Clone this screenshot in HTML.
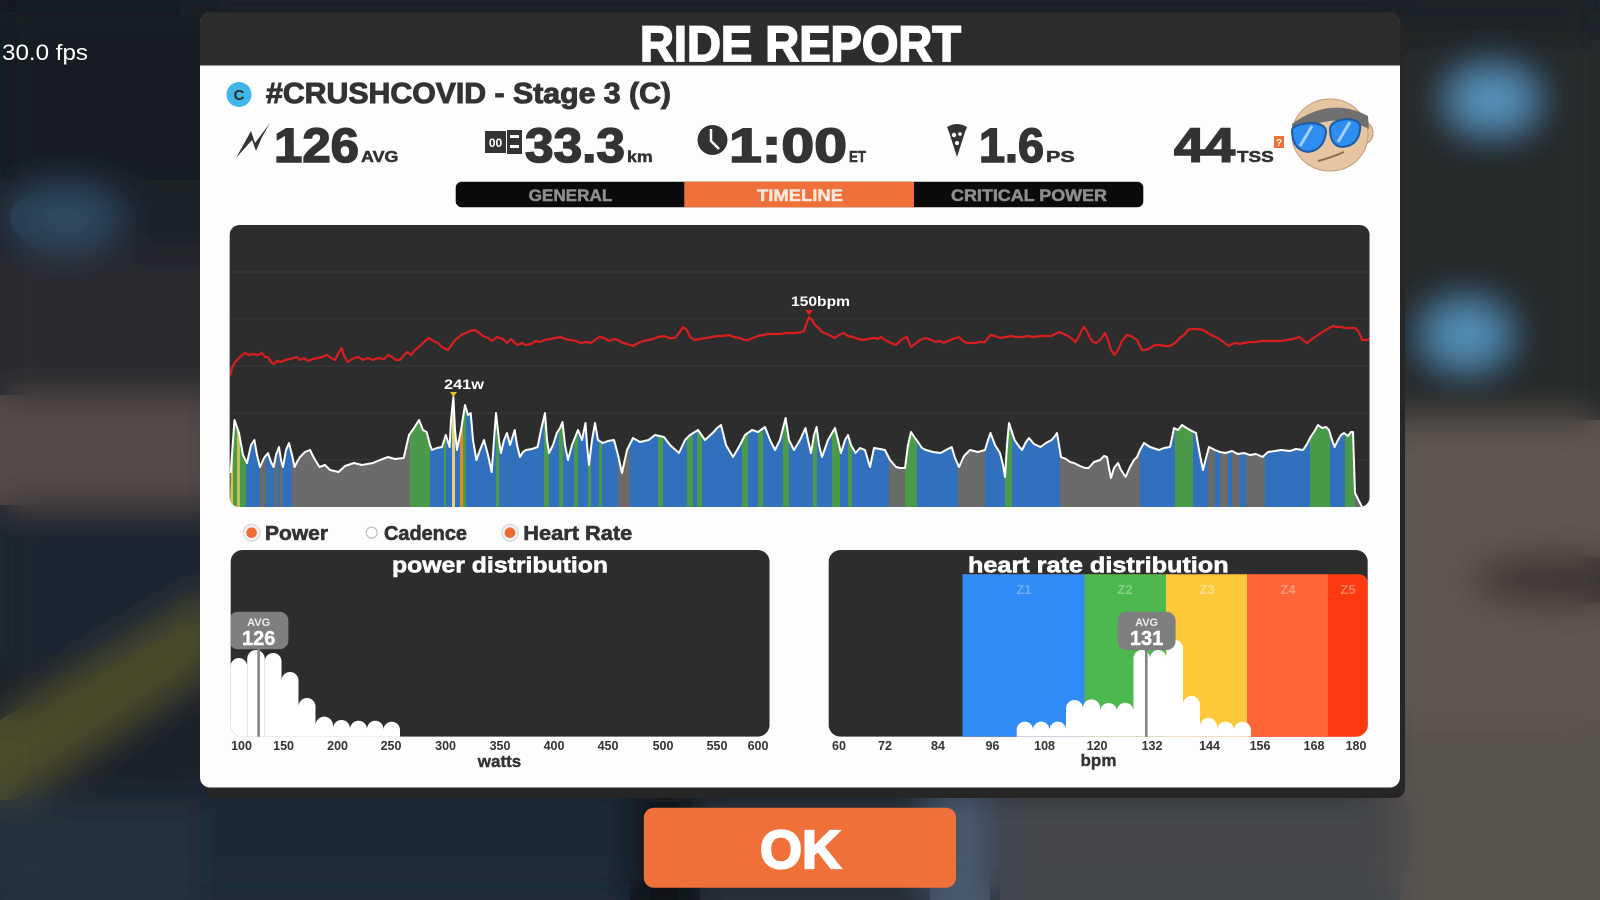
<!DOCTYPE html>
<html><head><meta charset="utf-8"><style>
html,body{margin:0;padding:0;width:1600px;height:900px;overflow:hidden;background:#1b2129}
svg{display:block;overflow:hidden}
text{font-family:"Liberation Sans",Arial,sans-serif;font-weight:bold}
</style></head><body>
<svg width="1600" height="900" viewBox="0 0 1600 900" xmlns="http://www.w3.org/2000/svg" xmlns:xlink="http://www.w3.org/1999/xlink" style="overflow:hidden">
<defs>
<clipPath id="full"><rect x="0" y="0" width="1600" height="900"/></clipPath>
<filter id="blur" x="0" y="0" width="1600" height="900" filterUnits="userSpaceOnUse"><feGaussianBlur stdDeviation="18"/></filter>
<g id="bgshapes">
<rect x="0" y="0" width="1600" height="900" fill="#1c232b"/>
<rect x="0" y="0" width="220" height="180" fill="#131a21"/>
<ellipse cx="65" cy="218" rx="55" ry="32" fill="#2f4862"/>
<rect x="0" y="255" width="220" height="130" fill="#29292d"/>
<rect x="0" y="395" width="220" height="110" fill="#554c4a"/>
<rect x="0" y="515" width="220" height="150" fill="#1d2631"/>
<polygon points="0,720 220,590 220,660 0,810" fill="#4c4c2a"/>
<rect x="0" y="800" width="220" height="100" fill="#22303e"/>
<rect x="1380" y="0" width="220" height="420" fill="#25292a"/>
<rect x="1380" y="0" width="220" height="40" fill="#1e2427"/>
<ellipse cx="1492" cy="100" rx="42" ry="28" fill="#5a95c0"/>
<ellipse cx="1466" cy="335" rx="40" ry="30" fill="#5592ba"/>
<rect x="1380" y="420" width="220" height="480" fill="#5e5751"/>
<ellipse cx="1560" cy="580" rx="90" ry="25" fill="#3a3533"/>
<rect x="1380" y="720" width="220" height="180" fill="#58524d"/>
<rect x="200" y="790" width="1200" height="110" fill="#262e37"/>
<rect x="200" y="790" width="430" height="110" fill="#1f2b38"/>
<rect x="630" y="790" width="70" height="110" fill="#0e1216"/>
<rect x="930" y="790" width="60" height="110" fill="#4a5a70"/>
<rect x="1000" y="790" width="400" height="110" fill="#44474b"/>
<rect x="180" y="0" width="1240" height="14" fill="#1a2127"/>
</g>
<clipPath id="chartClip"><rect x="229.6" y="225" width="1140" height="282" rx="10"/></clipPath>
<clipPath id="pdClip"><rect x="230.6" y="550" width="539" height="186.7" rx="12"/></clipPath>
<clipPath id="hdClip"><rect x="828.6" y="550" width="539.2" height="186.7" rx="12"/></clipPath>
<clipPath id="areaClip"><polygon points="230,507 230.7,473 234.5,420 239,433 243,455 247,463 251,445 254.4,440 257,455 260,467 264,458 268,453 271,462 273.6,467 276,455 279,447 281,460 283,467 286,450 289,443 292,455 294.6,467 297,462 300,457 305,452 310,450 314,458 319.5,467 325,465 330,470 338.6,472 345,466 354,463 362,465 373,463 380,460 388,457 395,459 403.7,458 409,435 414,428 419,420 423,430 426.7,432 430,445 432,450 437,448 442,447 445.8,435 449.6,447 451,420 453.4,397 455,430 457,450 461,430 465,405 468,415 470.7,413 473,440 476.4,460 480,450 484,440 488,455 491.7,472 494,440 496,413 499,440 501,453 504,440 507,433 510,445 514.7,430 517,445 520,457 523,452 526,450 532,449 537.6,447 541,430 545,413 547,440 549,453 553,445 556.8,433 560,428 562.5,422 565,445 568,460 572,445 578,430 582,440 585.5,423 587,445 589,465 592,440 595,423 598,440 602.7,443 608,441 614,440 618,455 622,473 627,450 633,438 640,442 648.6,440 655,435 664,437 670,445 679,453 685,440 690,435 698,430 705,440 713.7,432 717,428 721,425 726,445 733,457 740,445 745,435 752,430 758,432 765,427 770,440 775,450 780,440 785.6,418 789,440 794,450 800,440 805.5,428 808,440 811,453 814,435 816.6,427 819,445 822,457 828,440 835,428 838,440 841,453 845,440 848,435 851,445 855.5,453 860,448 865,450 870,467 874,448 880,449 885,450 890,460 896,467 900,468 905,468 908,445 911,432 915,438 918,442 922,448 926,450 933,452 940.6,453 946,450 951.7,447 955,458 959,467 964,456 970,450 978,452 985,450 988,440 990.5,433 995,445 1000,453 1003,465 1005,477 1007,445 1009,423 1012,432 1014.6,440 1018,445 1022,450 1026,442 1029,438 1034,444 1040.5,447 1046,443 1051.6,440 1055,436 1057,433 1059,445 1061,457 1066,459 1070,462 1074,463 1080,466 1085,468 1088.6,468 1094,462 1100,460 1104,456 1107,457 1109,468 1111,478 1114,468 1118,463 1121,470 1125.6,477 1130,467 1134,460 1137,457 1140,450 1144,443 1150,447 1159,450 1164,448 1170,447 1172,438 1174,428 1178,430 1182,425 1185,427 1190,430 1196,433 1199,450 1203,470 1206,458 1209,447 1215,450 1220,452 1225.5,453 1232,451 1238,454 1244,453 1250,455 1256,454 1262.5,457 1268,452 1275,451 1281,450 1290,451 1296,449 1303,450 1307,444 1310.6,437 1314,432 1318,425 1322,428 1326,427 1329,430 1332,440 1334.6,447 1338,440 1341,435 1344,433 1348,436 1351,432 1353,432 1355,493 1362,507"/></clipPath>
</defs>

<!-- background -->
<g clip-path="url(#full)">
<use xlink:href="#bgshapes" href="#bgshapes"/>
<use xlink:href="#bgshapes" href="#bgshapes" filter="url(#blur)"/>
</g>

<text x="2" y="60" font-size="22" fill="#ffffff" style="font-weight:normal" textLength="86" lengthAdjust="spacingAndGlyphs">30.0 fps</text>

<!-- panel -->
<rect x="205" y="20" width="1200" height="778" rx="10" fill="#262626"/>
<rect x="200" y="12.5" width="1200" height="775" rx="10" fill="#fdfdfd"/>
<path d="M200,65.5 V22.5 Q200,12.5 210,12.5 H1390 Q1400,12.5 1400,22.5 V65.5 Z" fill="#2d2d2d"/>
<text x="640" y="61" font-size="50" fill="#fff" stroke="#fff" stroke-width="1.8" textLength="321" lengthAdjust="spacingAndGlyphs">RIDE REPORT</text>

<!-- stage title -->
<circle cx="239" cy="94.5" r="12.5" fill="#3fb6e6"/>
<text x="239" y="100" font-size="15" fill="#2a2a2a" text-anchor="middle">C</text>
<text x="266" y="103" font-size="29" fill="#333" stroke="#333" stroke-width="1" textLength="405" lengthAdjust="spacingAndGlyphs">#CRUSHCOVID - Stage 3 (C)</text>

<!-- stats -->
<path d="M236,158 L251,131 L255,143 L270,123 L262,137 L256,151 L252,140 Z" fill="#333"/>
<text x="274" y="162" font-size="48" fill="#333" stroke="#333" stroke-width="1.6" textLength="85" lengthAdjust="spacingAndGlyphs">126</text>
<text x="361" y="162" font-size="16" fill="#333" stroke="#333" stroke-width="0.5" textLength="37.5" lengthAdjust="spacingAndGlyphs">AVG</text>

<rect x="485" y="131" width="21" height="22" fill="#333"/>
<text x="495.5" y="147" font-size="12" fill="#fff" text-anchor="middle">00</text>
<rect x="507" y="130" width="15" height="24" fill="#333"/>
<rect x="510" y="135" width="9" height="3" fill="#fff"/>
<rect x="510" y="145" width="9" height="3" fill="#fff"/>
<text x="525" y="162" font-size="48" fill="#333" stroke="#333" stroke-width="1.6" textLength="100" lengthAdjust="spacingAndGlyphs">33.3</text>
<text x="627" y="162" font-size="16" fill="#333" stroke="#333" stroke-width="0.5" textLength="25.7" lengthAdjust="spacingAndGlyphs">km</text>

<circle cx="712.5" cy="140" r="15" fill="#333"/>
<path d="M711,129 L711,141 L719,149" stroke="#fff" stroke-width="2.5" fill="none"/>
<text x="729" y="162" font-size="48" fill="#333" stroke="#333" stroke-width="1.6" textLength="118" lengthAdjust="spacingAndGlyphs">1:00</text>
<text x="849" y="162" font-size="16" fill="#333" stroke="#333" stroke-width="0.5" textLength="17" lengthAdjust="spacingAndGlyphs">ET</text>

<path d="M947,127 Q957,121 967,127 L965,132 L957,157 L949,132 Z" fill="#333"/>
<circle cx="954" cy="135" r="2.2" fill="#fff"/><circle cx="960" cy="134" r="1.8" fill="#fff"/><circle cx="957" cy="143" r="2" fill="#fff"/>
<text x="979" y="162" font-size="48" fill="#333" stroke="#333" stroke-width="1.6" textLength="65" lengthAdjust="spacingAndGlyphs">1.6</text>
<text x="1046" y="162" font-size="16" fill="#333" stroke="#333" stroke-width="0.5" textLength="28.7" lengthAdjust="spacingAndGlyphs">PS</text>

<text x="1174" y="162" font-size="48" fill="#333" stroke="#333" stroke-width="1.6" textLength="61" lengthAdjust="spacingAndGlyphs">44</text>
<text x="1237" y="162" font-size="16" fill="#333" stroke="#333" stroke-width="0.5" textLength="36.7" lengthAdjust="spacingAndGlyphs">TSS</text>
<rect x="1274" y="136" width="10" height="12" fill="#f07039"/>
<text x="1279" y="146" font-size="10" fill="#fff" text-anchor="middle">?</text>

<!-- avatar -->
<ellipse cx="1366" cy="133" rx="7" ry="10" fill="#e3c29c" stroke="#b8906c" stroke-width="1"/>
<ellipse cx="1330" cy="135" rx="38" ry="36" fill="#e6c6a0" stroke="#c49c74" stroke-width="1"/>
<path d="M1292,124 Q1330,96 1368,116 L1369,129 Q1330,108 1293,138 Z" fill="#6f6f6f"/>
<path d="M1292,130 Q1294,124 1312,123 Q1326,124 1326,132 Q1324,150 1308,152 Q1292,150 1292,130 Z" fill="#2f8df0" stroke="#1d5aa8" stroke-width="2"/>
<path d="M1330,128 Q1332,120 1348,119 Q1362,120 1360,130 Q1358,146 1342,147 Q1330,146 1330,128 Z" fill="#2f8df0" stroke="#1d5aa8" stroke-width="2"/>
<path d="M1300,146 L1312,126 M1338,142 L1350,122" stroke="#9fd0ff" stroke-width="3"/>
<path d="M1318,161 Q1330,158 1344,152" stroke="#8a6a50" stroke-width="2" fill="none"/>

<!-- tabs -->
<rect x="455.7" y="181.7" width="687.6" height="25.6" rx="6" fill="#0b0b0b"/>
<rect x="684.3" y="181.7" width="229.7" height="25.6" fill="#f07039"/>
<text x="528.6" y="201" font-size="17" fill="#8e8e8e" stroke="#8e8e8e" stroke-width="0.5" textLength="83.7" lengthAdjust="spacingAndGlyphs">GENERAL</text>
<text x="757" y="201" font-size="17" fill="#fbe7dc" stroke="#fbe7dc" stroke-width="0.5" textLength="86" lengthAdjust="spacingAndGlyphs">TIMELINE</text>
<text x="951" y="201" font-size="17" fill="#8e8e8e" stroke="#8e8e8e" stroke-width="0.5" textLength="156" lengthAdjust="spacingAndGlyphs">CRITICAL POWER</text>

<!-- timeline chart -->
<g clip-path="url(#chartClip)">
<rect x="229.6" y="225" width="1140" height="282" fill="#2d2d2d"/>
<g stroke="#393939" stroke-width="1">
<line x1="229" y1="272" x2="1370" y2="272"/><line x1="229" y1="319" x2="1370" y2="319"/>
<line x1="229" y1="366" x2="1370" y2="366"/><line x1="229" y1="413" x2="1370" y2="413"/>
<line x1="229" y1="460" x2="1370" y2="460"/>
</g>
<g clip-path="url(#areaClip)">
<rect x="229" y="380" width="1142" height="130" fill="#6b6b6b"/>
<g fill="#3070bd">
<rect x="246" y="380" width="14" height="130"/><rect x="266" y="380" width="8" height="130"/><rect x="277" y="380" width="3" height="130"/><rect x="283" y="380" width="9" height="130"/>
<rect x="430" y="380" width="14" height="130"/><rect x="446" y="380" width="6" height="130"/><rect x="455" y="380" width="5" height="130"/><rect x="466" y="380" width="30" height="130"/>
<rect x="499" y="380" width="45" height="130"/><rect x="549" y="380" width="10" height="130"/><rect x="563" y="380" width="11" height="130"/><rect x="578" y="380" width="10" height="130"/>
<rect x="591" y="380" width="8" height="130"/><rect x="602" y="380" width="16" height="130"/><rect x="630" y="380" width="28" height="130"/><rect x="663" y="380" width="24" height="130"/>
<rect x="693" y="380" width="4" height="130"/><rect x="702" y="380" width="40" height="130"/><rect x="748" y="380" width="10" height="130"/><rect x="763" y="380" width="20" height="130"/>
<rect x="789" y="380" width="24" height="130"/><rect x="817" y="380" width="15" height="130"/><rect x="840" y="380" width="8" height="130"/><rect x="852" y="380" width="37" height="130"/>
<rect x="917" y="380" width="41" height="130"/><rect x="985" y="380" width="20" height="130"/><rect x="1012" y="380" width="48" height="130"/><rect x="1140" y="380" width="35" height="130"/>
<rect x="1193" y="380" width="15" height="130"/><rect x="1215" y="380" width="5" height="130"/><rect x="1228" y="380" width="4" height="130"/><rect x="1240" y="380" width="6" height="130"/>
<rect x="1265" y="380" width="45" height="130"/><rect x="1330" y="380" width="15" height="130"/>
</g>
<g fill="#4a9a4a">
<rect x="233" y="380" width="4" height="130"/><rect x="240" y="380" width="6" height="130"/><rect x="410" y="380" width="20" height="130"/><rect x="444" y="380" width="2" height="130"/>
<rect x="463" y="380" width="3" height="130"/><rect x="496" y="380" width="3" height="130"/><rect x="544" y="380" width="5" height="130"/><rect x="559" y="380" width="4" height="130"/>
<rect x="574" y="380" width="4" height="130"/><rect x="588" y="380" width="3" height="130"/><rect x="599" y="380" width="3" height="130"/><rect x="658" y="380" width="5" height="130"/>
<rect x="687" y="380" width="6" height="130"/><rect x="697" y="380" width="5" height="130"/><rect x="742" y="380" width="6" height="130"/><rect x="758" y="380" width="5" height="130"/>
<rect x="783" y="380" width="6" height="130"/><rect x="813" y="380" width="4" height="130"/><rect x="832" y="380" width="8" height="130"/><rect x="848" y="380" width="4" height="130"/>
<rect x="905" y="380" width="12" height="130"/><rect x="1005" y="380" width="7" height="130"/><rect x="1175" y="380" width="18" height="130"/><rect x="1310" y="380" width="20" height="130"/>
<rect x="1345" y="380" width="10" height="130"/>
</g>
<rect x="230" y="380" width="3" height="130" fill="#d6c24a"/>
<rect x="237" y="380" width="3" height="130" fill="#c9c050"/>
<rect x="452" y="380" width="3" height="130" fill="#e0d080"/>
<rect x="460" y="380" width="3" height="130" fill="#e08a30"/>
</g>
<polyline fill="none" stroke="#ffffff" stroke-width="2" stroke-linejoin="round" points="230.7,473 234.5,420 239,433 243,455 247,463 251,445 254.4,440 257,455 260,467 264,458 268,453 271,462 273.6,467 276,455 279,447 281,460 283,467 286,450 289,443 292,455 294.6,467 297,462 300,457 305,452 310,450 314,458 319.5,467 325,465 330,470 338.6,472 345,466 354,463 362,465 373,463 380,460 388,457 395,459 403.7,458 409,435 414,428 419,420 423,430 426.7,432 430,445 432,450 437,448 442,447 445.8,435 449.6,447 451,420 453.4,397 455,430 457,450 461,430 465,405 468,415 470.7,413 473,440 476.4,460 480,450 484,440 488,455 491.7,472 494,440 496,413 499,440 501,453 504,440 507,433 510,445 514.7,430 517,445 520,457 523,452 526,450 532,449 537.6,447 541,430 545,413 547,440 549,453 553,445 556.8,433 560,428 562.5,422 565,445 568,460 572,445 578,430 582,440 585.5,423 587,445 589,465 592,440 595,423 598,440 602.7,443 608,441 614,440 618,455 622,473 627,450 633,438 640,442 648.6,440 655,435 664,437 670,445 679,453 685,440 690,435 698,430 705,440 713.7,432 717,428 721,425 726,445 733,457 740,445 745,435 752,430 758,432 765,427 770,440 775,450 780,440 785.6,418 789,440 794,450 800,440 805.5,428 808,440 811,453 814,435 816.6,427 819,445 822,457 828,440 835,428 838,440 841,453 845,440 848,435 851,445 855.5,453 860,448 865,450 870,467 874,448 880,449 885,450 890,460 896,467 900,468 905,468 908,445 911,432 915,438 918,442 922,448 926,450 933,452 940.6,453 946,450 951.7,447 955,458 959,467 964,456 970,450 978,452 985,450 988,440 990.5,433 995,445 1000,453 1003,465 1005,477 1007,445 1009,423 1012,432 1014.6,440 1018,445 1022,450 1026,442 1029,438 1034,444 1040.5,447 1046,443 1051.6,440 1055,436 1057,433 1059,445 1061,457 1066,459 1070,462 1074,463 1080,466 1085,468 1088.6,468 1094,462 1100,460 1104,456 1107,457 1109,468 1111,478 1114,468 1118,463 1121,470 1125.6,477 1130,467 1134,460 1137,457 1140,450 1144,443 1150,447 1159,450 1164,448 1170,447 1172,438 1174,428 1178,430 1182,425 1185,427 1190,430 1196,433 1199,450 1203,470 1206,458 1209,447 1215,450 1220,452 1225.5,453 1232,451 1238,454 1244,453 1250,455 1256,454 1262.5,457 1268,452 1275,451 1281,450 1290,451 1296,449 1303,450 1307,444 1310.6,437 1314,432 1318,425 1322,428 1326,427 1329,430 1332,440 1334.6,447 1338,440 1341,435 1344,433 1348,436 1351,432 1353,432 1355,493 1362,507"/>
<polyline fill="none" stroke="#d81e1e" stroke-width="2.2" stroke-linejoin="round" points="230,376 232,368 235,362 237,360 241,356 245,353 249,355 253,354 258,355 262,353 265,357 268,357 271,362 273.6,364 277,361 281,362 285,360 290,359 296.5,357 300,360 304,358 308,361 313,359 318,358 322,357 327,355 331,358 335,360 338,354 341.7,348 344,356 348,362 352,359 358,357 363,360 368,358 373,360 378,358 384,359 388,355 392,357 396,360 400,360 404,355 407.5,352 411,355 415,350 420,346 424,342 428.5,338 432,340 435,342 438,343 442,347 447.7,350 451,346 455,340 458,338 461,335 466,333 470,331 474.5,330 478,332 483,336 488,338 492,341 497,337 503,339 507,343 511,339 514.7,343 518,345 522,343 526,345 531,344 536,341 540,342 545,340 550,339 555,338 560.6,337 565,339 570,340 576,341 581,343 586,342 591,343 595,340 599,337 604,338 609,341 614,339 618,340 623,343 628,344 633,346 638,343 643,341 648.6,340 653,339 658,337 664,336 669,338 675,338 679,333 683,327 687,330 690,337 694.5,340 700,339 706,338 712,337 717.5,336 723,336 729,335 734,337 740,338 744,340 748,340 753,338 758,336 763,335 768,334 774,334 780,334 786,333 792,333 797,333 801,332 804,331 806,325 809,317 812,320 815,325 818.5,328 822,332 827,334 831,336 835,338 839,335 844,333 848,336 853,337 858,339 863,340 868,339 874,338 878,339 881,337 885,340 889,342 893,344 896,345 900,341 904,338 907,337 909,342 911,347 915,344 920,340 926,338 931,340 936,342 940,341 944,343 948,341 953,339 959,337 963,341 967,343 970,343 975,343 980,342 985,342 988,338 990.5,335 995,336 1000,338 1006,337 1011,336 1016,337 1022,337 1028,336 1034,337 1040,336 1046,336 1051.5,336 1055,334 1059,332 1064,334 1068,336 1072,339 1075.6,342 1079,336 1082,330 1084,327 1087,331 1090,338 1093,342 1096,343 1100,340 1103,336 1105,333 1108,340 1111,350 1114.5,355 1118,350 1122,341 1127,335 1131,336 1134,338 1137,340 1140,346 1142,350 1146,350 1150,348 1155,345 1160,345 1165,346 1170,346 1175,343 1180,338 1185,334 1188,330 1192,329 1197,329 1203,330 1208,333 1213,336 1218,338 1222,341 1226,344 1229,346 1232,344 1236,343 1240,344 1244,343 1250,342 1256,342 1262,341 1268,341 1275,341 1281,341 1287,340 1293,339 1299.5,337 1303,340 1307,343 1312,339 1318,335 1324,331 1329,328 1333,326 1337,327 1341,327 1345,328 1350,328 1355,328 1359,332 1362,340 1366,340 1370,339"/>
</g>
<polygon points="805,310 813,310 809,315" fill="#e02020"/>
<text x="791" y="306" font-size="14" fill="#fff" textLength="59" lengthAdjust="spacingAndGlyphs">150bpm</text>
<polygon points="450,392 457,392 453.5,397" fill="#e8c030"/>
<text x="444" y="389" font-size="14" fill="#fff" textLength="40" lengthAdjust="spacingAndGlyphs">241w</text>

<!-- legend -->
<circle cx="251.6" cy="532.7" r="8.3" fill="#f2f2f2" stroke="#d8d8d8" stroke-width="1.2"/>
<circle cx="251.6" cy="532.7" r="5.3" fill="#f06a35"/>
<text x="265" y="540" font-size="20" fill="#333" stroke="#333" stroke-width="0.6" textLength="63" lengthAdjust="spacingAndGlyphs">Power</text>
<circle cx="371.7" cy="532.7" r="5.5" fill="#fff" stroke="#bdbdbd" stroke-width="1.2"/>
<text x="384" y="540" font-size="20" fill="#333" stroke="#333" stroke-width="0.6" textLength="83" lengthAdjust="spacingAndGlyphs">Cadence</text>
<circle cx="510" cy="532.7" r="8.3" fill="#f2f2f2" stroke="#d8d8d8" stroke-width="1.2"/>
<circle cx="510" cy="532.7" r="5.3" fill="#f06a35"/>
<text x="523.3" y="540" font-size="20" fill="#333" stroke="#333" stroke-width="0.6" textLength="109" lengthAdjust="spacingAndGlyphs">Heart Rate</text>

<!-- power distribution -->
<g clip-path="url(#pdClip)">
<rect x="230.6" y="550" width="539" height="186.7" fill="#2d2d2d"/>
<g fill="#ffffff">
<path d="M230.6,736.7 V666.3 A8.3,8.3 0 0 1 247.2,666.3 V736.7 Z"/>
<path d="M247.2,736.7 V658.8 A8.8,8.8 0 0 1 264.8,658.8 V736.7 Z"/>
<path d="M264.8,736.7 V661.3 A8.35,8.35 0 0 1 281.5,661.3 V736.7 Z"/>
<path d="M281.5,736.7 V680.5 A8.5,8.5 0 0 1 298.5,680.5 V736.7 Z"/>
<path d="M298.5,736.7 V706.5 A8.5,8.5 0 0 1 315.5,706.5 V736.7 Z"/>
<path d="M315.5,736.7 V725.4 A8.75,8.75 0 0 1 333,725.4 V736.7 Z"/>
<path d="M333,736.7 V728.5 A8.5,8.5 0 0 1 350,728.5 V736.7 Z"/>
<path d="M350,736.7 V729.2 A8.5,8.5 0 0 1 367,729.2 V736.7 Z"/>
<path d="M367,736.7 V729 A8.25,8.25 0 0 1 383.5,729 V736.7 Z"/>
<path d="M383.5,736.7 V730 A8.25,8.25 0 0 1 400,730 V736.7 Z"/>
</g>
<line x1="258.6" y1="648" x2="258.6" y2="737" stroke="#808080" stroke-width="2.5"/>
<rect x="229" y="611.7" width="59.4" height="37.6" rx="9" fill="#7f7f7f"/>
</g>
<text x="258.7" y="626" font-size="11" fill="#eee" text-anchor="middle">AVG</text>
<text x="258.7" y="645" font-size="20" fill="#fff" text-anchor="middle" stroke="#fff" stroke-width="0.4">126</text>
<text x="392" y="572.5" font-size="22" fill="#fff" stroke="#fff" stroke-width="0.6" textLength="216" lengthAdjust="spacingAndGlyphs">power distribution</text>
<g font-size="12.5" fill="#333" text-anchor="middle">
<text x="241.5" y="750">100</text><text x="283.6" y="750">150</text><text x="337.6" y="750">200</text><text x="391" y="750">250</text><text x="445.6" y="750">300</text><text x="500" y="750">350</text><text x="554" y="750">400</text><text x="608" y="750">450</text><text x="663" y="750">500</text><text x="717" y="750">550</text><text x="758" y="750">600</text>
</g>
<text x="499.5" y="767" font-size="17" fill="#333" text-anchor="middle" stroke="#333" stroke-width="0.4">watts</text>

<!-- heart rate distribution -->
<g clip-path="url(#hdClip)">
<rect x="828.6" y="550" width="539.2" height="186.7" fill="#2d2d2d"/>
<path d="M962.5,574.3 H1357.8 Q1367.8,574.3 1367.8,584.3 V740 H962.5 Z" fill="#fe3a10"/>
<rect x="962.5" y="574.3" width="122.1" height="166" fill="#2f8bf6"/>
<rect x="1084.6" y="574.3" width="81.4" height="166" fill="#4cb84e"/>
<rect x="1166" y="574.3" width="81" height="166" fill="#fdc93a"/>
<rect x="1247" y="574.3" width="81" height="166" fill="#fd6537"/>
<g font-size="13" text-anchor="middle">
<text x="1024" y="594" fill="#6eaef8">Z1</text><text x="1125" y="594" fill="#86d088">Z2</text><text x="1207" y="594" fill="#fde08a">Z3</text><text x="1288" y="594" fill="#fe9a78">Z4</text><text x="1348" y="594" fill="#fe7e60">Z5</text>
</g>
<g fill="#ffffff">
<path d="M1016.7,736.7 V729.8 A8.15,8.15 0 0 1 1033,729.8 V736.7 Z"/>
<path d="M1033,736.7 V729.9 A8.25,8.25 0 0 1 1049.5,729.9 V736.7 Z"/>
<path d="M1049.5,736.7 V729.9 A8.25,8.25 0 0 1 1066,729.9 V736.7 Z"/>
<path d="M1066,736.7 V708.5 A8.5,8.5 0 0 1 1083,708.5 V736.7 Z"/>
<path d="M1083,736.7 V707.8 A8.5,8.5 0 0 1 1100,707.8 V736.7 Z"/>
<path d="M1100,736.7 V711.5 A8.5,8.5 0 0 1 1117,711.5 V736.7 Z"/>
<path d="M1117,736.7 V711 A8.25,8.25 0 0 1 1133.5,711 V736.7 Z"/>
<path d="M1133.5,736.7 V658.3 A8.25,8.25 0 0 1 1150,658.3 V736.7 Z"/>
<path d="M1150,736.7 V658.3 A8.25,8.25 0 0 1 1166.5,658.3 V736.7 Z"/>
<path d="M1166.5,736.7 V648.3 A8.25,8.25 0 0 1 1183,648.3 V736.7 Z"/>
<path d="M1183,736.7 V704.5 A8.5,8.5 0 0 1 1200,704.5 V736.7 Z"/>
<path d="M1200,736.7 V726.5 A8.5,8.5 0 0 1 1217,726.5 V736.7 Z"/>
<path d="M1217,736.7 V730.2 A8.5,8.5 0 0 1 1234,730.2 V736.7 Z"/>
<path d="M1234,736.7 V730.2 A8.5,8.5 0 0 1 1251,730.2 V736.7 Z"/>
</g>
<line x1="1146.3" y1="648" x2="1146.3" y2="737" stroke="#808080" stroke-width="2.5"/>
<rect x="1117.7" y="611.7" width="57.9" height="38.3" rx="9" fill="#7f7f7f"/>
</g>
<text x="1146.6" y="626" font-size="11" fill="#eee" text-anchor="middle">AVG</text>
<text x="1146.6" y="645" font-size="20" fill="#fff" text-anchor="middle" stroke="#fff" stroke-width="0.4">131</text>
<text x="968" y="572.5" font-size="22" fill="#fff" stroke="#fff" stroke-width="0.6" textLength="260.6" lengthAdjust="spacingAndGlyphs">heart rate distribution</text>
<g font-size="12.5" fill="#333" text-anchor="middle">
<text x="839" y="750">60</text><text x="885" y="750">72</text><text x="938" y="750">84</text><text x="992.4" y="750">96</text><text x="1044.6" y="750">108</text><text x="1097" y="750">120</text><text x="1152" y="750">132</text><text x="1209.5" y="750">144</text><text x="1260" y="750">156</text><text x="1314" y="750">168</text><text x="1356" y="750">180</text>
</g>
<text x="1098.5" y="766" font-size="17" fill="#333" text-anchor="middle" stroke="#333" stroke-width="0.4">bpm</text>

<!-- OK button -->
<rect x="643.8" y="807.7" width="312.2" height="80" rx="10" fill="#f07039"/>
<text x="760" y="868" font-size="54" fill="#fff" stroke="#fff" stroke-width="2.2" textLength="81" lengthAdjust="spacingAndGlyphs">OK</text>
</svg>
</body></html>
